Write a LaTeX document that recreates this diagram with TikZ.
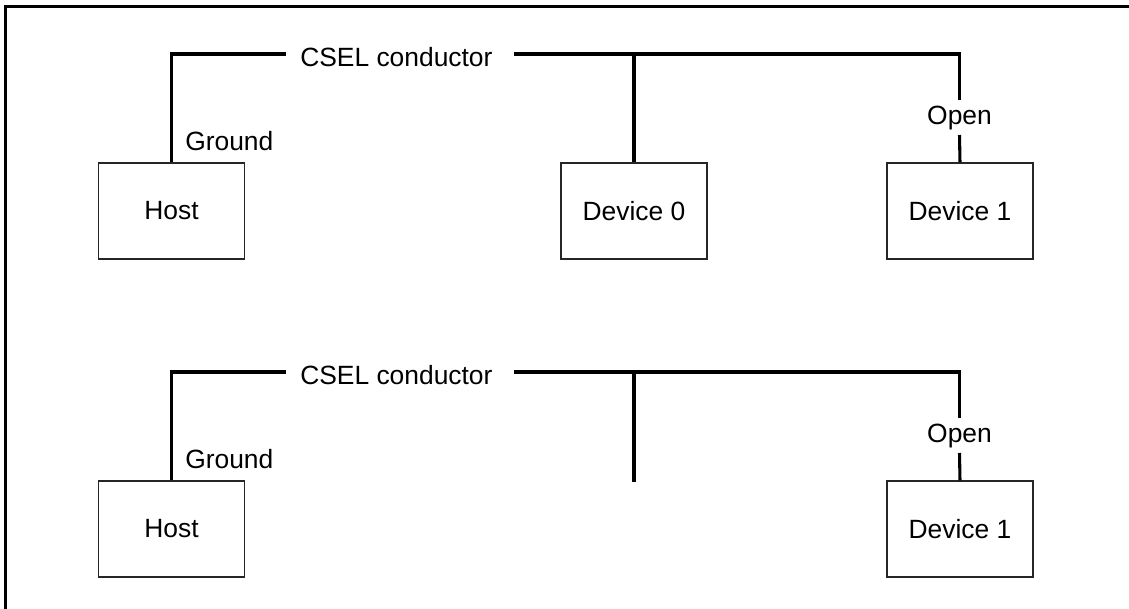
\documentclass[tikz,border=0pt]{standalone}
\usepackage{fontspec}
\setmainfont{Liberation Sans}
\begin{document}
\begin{tikzpicture}[x=0.75pt,y=-0.75pt,
  box/.style={draw=black!85,line width=0.9pt,minimum width=109.5pt,minimum height=72pt,inner sep=0pt,font=\fontsize{19.8}{24}\selectfont},
  lbl/.style={anchor=base,inner sep=0pt,font=\fontsize{19.8}{24}\selectfont},
  wire/.style={line width=2.3pt,line cap=butt},
  frame/.style={line width=2.4pt}]
\useasboundingbox (0,0) rectangle (1129,609);
\draw[frame] (5.5,612) -- (5.5,6.8) -- (1132,6.8);
% ---------- top panel ----------
\node[box] (host1) at (171.5,211) {Host};
\node[box] (dev0a) at (634,211) {Device 0};
\node[box] (dev1a) at (960,211) {Device 1};
\node[lbl,anchor=base west] (csel1) at (300,66.5) {CSEL conductor};
\node[lbl,anchor=base west] (gnd1) at (185,151) {Ground};
\node[lbl] (open1) at (959.5,125) {Open};
\coordinate (ga1) at (286,54);
\coordinate (gb1) at (514,54);
\coordinate (t1) at (959.5,54);
\coordinate (oa1) at (959.5,100);
\coordinate (ob1) at (959.5,135);
\draw[wire] (host1.north) |- (ga1);
\draw[wire] (gb1) -- (t1) -- (oa1);
\draw[wire] (ob1) -- (dev1a.north);
\draw[wire] (dev0a.north) -- (dev0a.north |- gb1);
% ---------- bottom panel ----------
\begin{scope}[shift={(0,318)}]
\node[box] (host2) at (171.5,211) {Host};
\node[box] (dev1b) at (960,211) {Device 1};
\node[lbl,anchor=base west] (csel2) at (300,66.5) {CSEL conductor};
\node[lbl,anchor=base west] (gnd2) at (185,151) {Ground};
\node[lbl] (open2) at (959.5,125) {Open};
\coordinate (ga2) at (286,54);
\coordinate (gb2) at (514,54);
\coordinate (t2) at (959.5,54);
\coordinate (oa2) at (959.5,100);
\coordinate (ob2) at (959.5,135);
\coordinate (stubtop) at (634,54);
\coordinate (stubend) at (634,164);
\draw[wire] (host2.north) |- (ga2);
\draw[wire] (gb2) -- (t2) -- (oa2);
\draw[wire] (ob2) -- (dev1b.north);
\draw[wire] (stubtop) -- (stubend);
\end{scope}
\end{tikzpicture}
\end{document}
